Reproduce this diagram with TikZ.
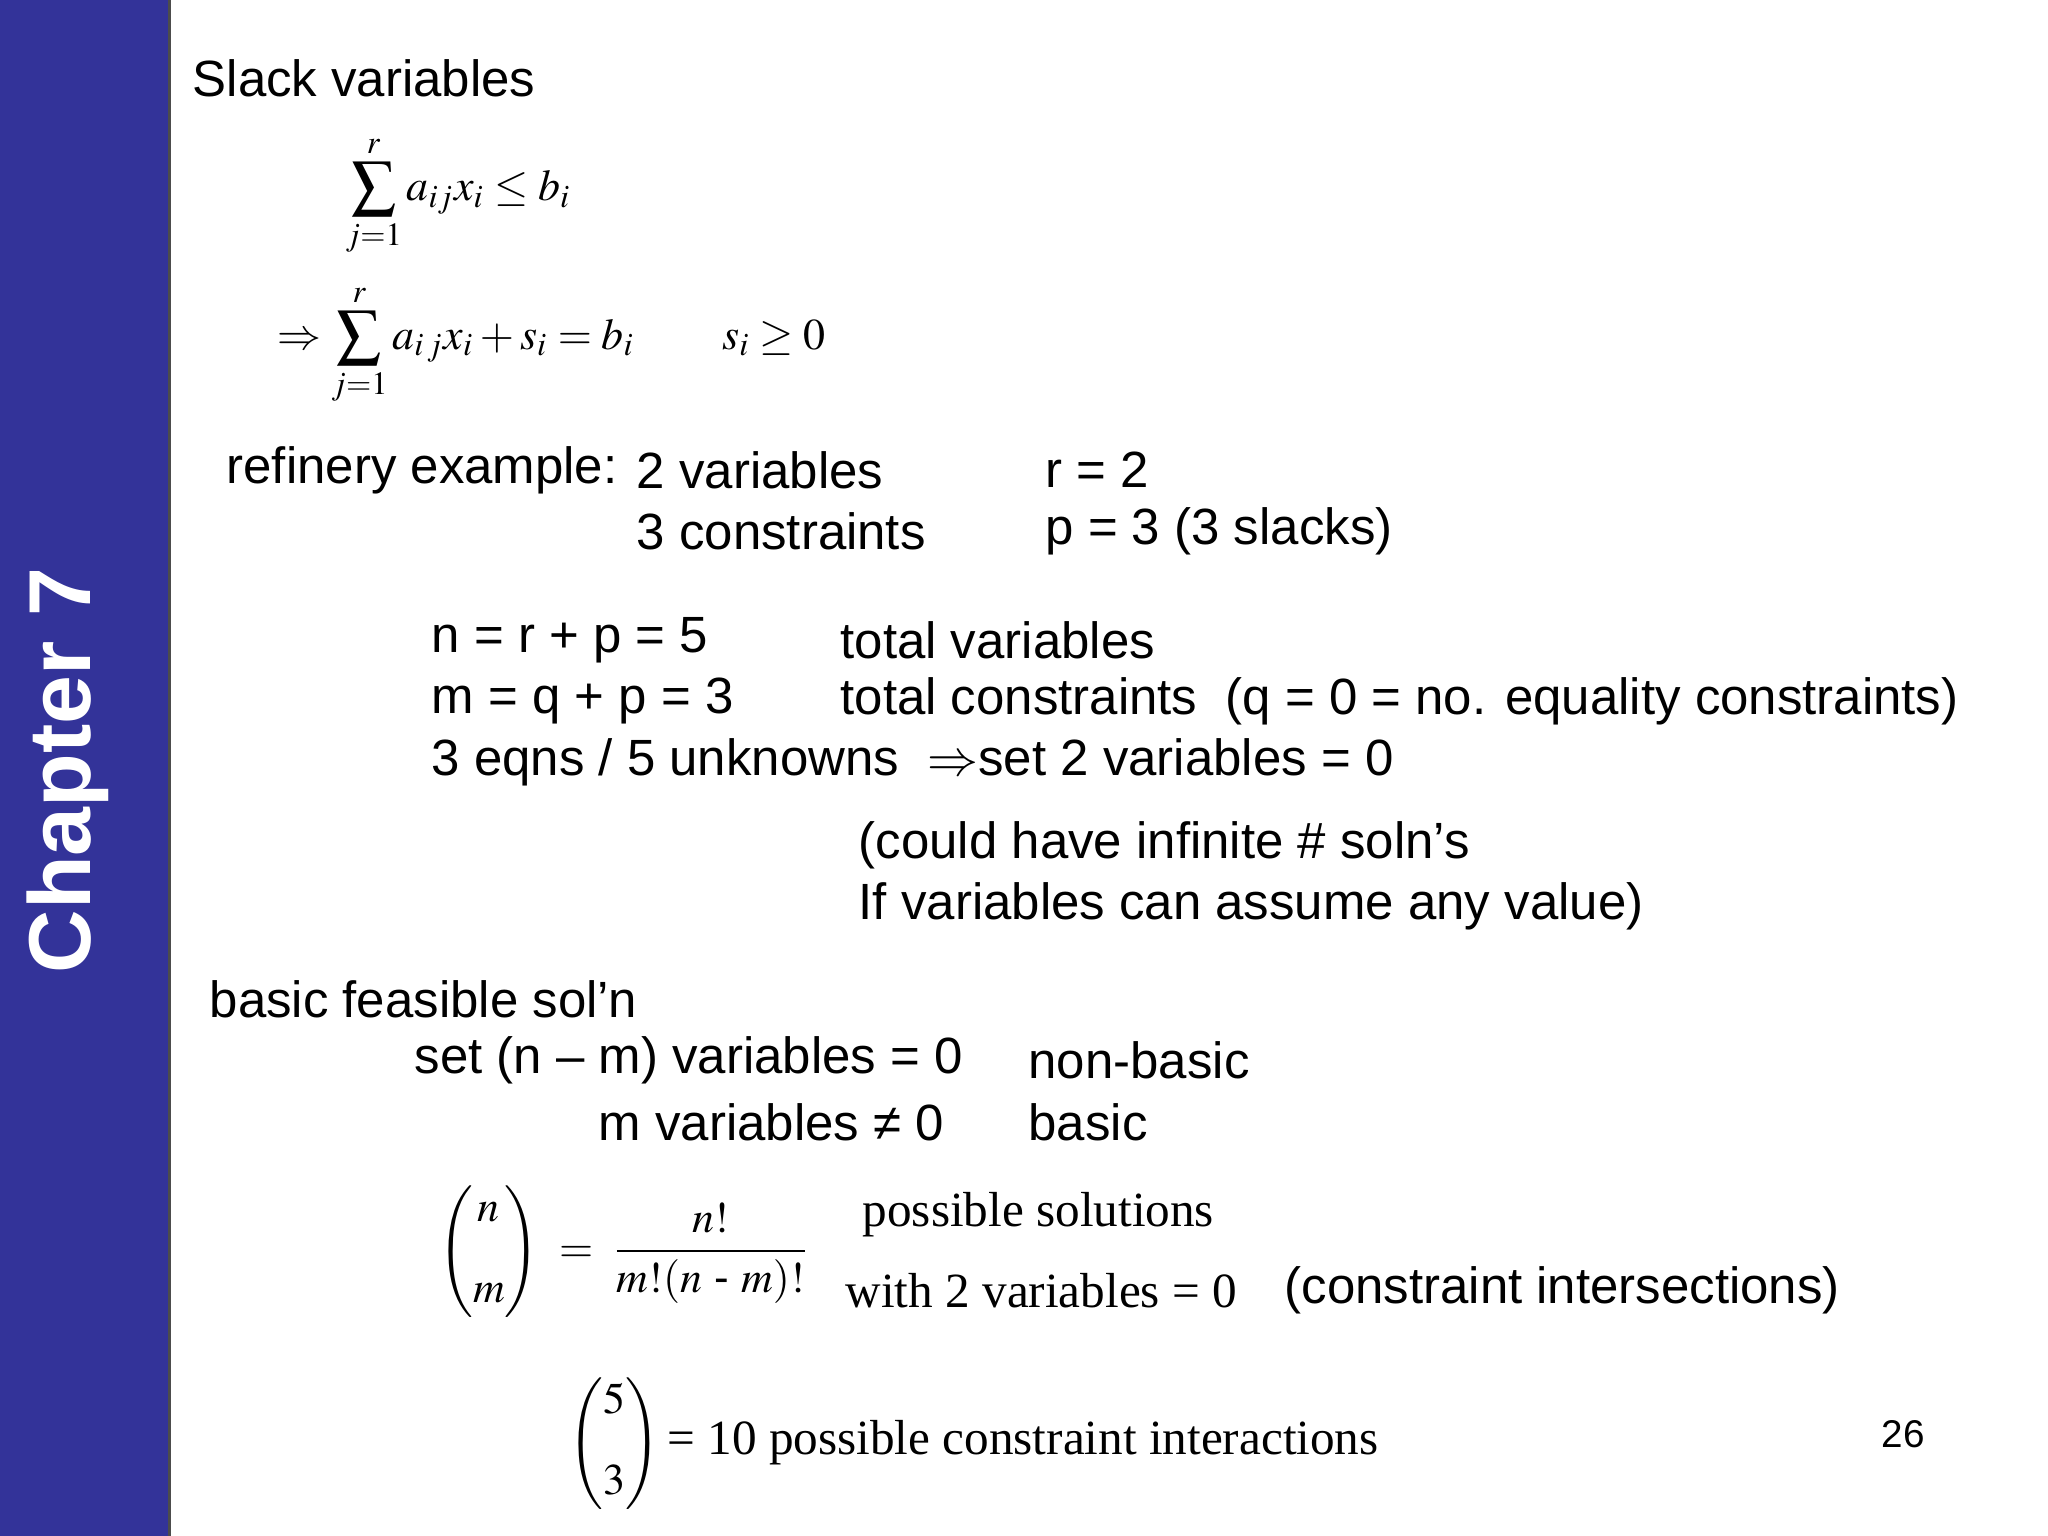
\documentclass[tikz,border=0pt]{standalone}
\usepackage{amsmath}
\usepackage{mathptmx}
\usepackage[no-math]{fontspec}
\setmainfont{Liberation Sans}
\newfontfamily\serifrm{Liberation Serif}
\definecolor{sidebar}{RGB}{51,51,153}
\begin{document}
\begin{tikzpicture}[x=0.01306cm,y=-0.01306cm,
  txt/.style={anchor=west,inner sep=0pt,font=\fontsize{14.5}{17}\selectfont},
  eqn/.style={anchor=west,inner sep=0pt,font=\fontsize{12.5}{15}\selectfont}]
            % \clip (0,0) rectangle (1568,1176);
            \useasboundingbox (0,0) rectangle (1568,1176);
            
            % Side bar
            \fill [sidebar] (0,0) rectangle (130,1176);%
            \draw [line width=0.03cm, black!70] (130,0) -- (130,1176);%
            \node (chap) [rotate=90, text=white, font=\fontsize{25}{30}\selectfont\bfseries] at (52,590) {Chapter 7};%
            
            % Slack variables
            \node (title) [txt] at (147,60) {Slack variables};%
            \node (ineq) [eqn] at (264,150) {$\displaystyle\sum_{j=1}^{r} a_{ij}x_i \le b_i$};%
            \node (slack) [eqn] at (212,264) {$\displaystyle\Rightarrow\sum_{j=1}^{r} a_{i\,j}x_i + s_i = b_i \qquad s_i \ge 0$};%
            
            % Refinery example
            \node (refa) [txt] at (173,360) {refinery example:};%
            \node (refb) [txt] at (487,360) {2 variables};%
            \node (refc) [txt] at (487,407) {3 constraints};%
            \node (refd) [txt] at (800,360) {r = 2};%
            \node (refe) [txt] at (800,407) {p = 3 (3 slacks)};%
            
            % Totals
            \node (tota) [txt] at (330,490) {n = r + p = 5};%
            \node (totb) [txt] at (643,490) {total variables};%
            \node (totc) [txt] at (330,537) {m = q + p = 3};%
            \node (totd) [txt] at (643,537) {total constraints\ \ (q = 0 = no. equality constraints)};%
            \node (tote) [txt] at (330,584) {3 eqns / 5 unknowns\ \ $\Rightarrow$set 2 variables = 0};%
            \node (totf) [txt] at (657,647) {(could have infinite \# soln’s};%
            \node (totg) [txt] at (657,694) {If variables can assume any value)};%
            
            % Basic feasible solution
            \node (bfsa) [txt] at (160,765) {basic feasible sol’n};%
            \node (bfsb) [txt] at (317,812) {set (n – m) variables = 0};%
            \node (bfsc) [txt] at (458,859) {m variables ≠ 0};%
            \node (bfse) [txt] at (787,859) {basic};%
            \node (bfsd) [txt] at (787,812) {non-basic};%
            
            % Combinations
            \node (comba) [eqn] at (335,958) {$\displaystyle\begin{pmatrix} n\\[8pt] m\end{pmatrix} \;=\; \frac{\;n!\;}{m!(n\text{ - }m)!}$};%
            \node (combb) [txt, font=\fontsize{14}{17}\selectfont\serifrm] at (660,930) {possible solutions};%
            \node (combc) [txt, font=\fontsize{14}{17}\selectfont\serifrm] at (647,988) {with 2 variables = 0};%
            \node (combd) [txt] at (983,988) {(constraint intersections)};%
            \node (combe) [eqn] at (435,1105) {$\displaystyle\begin{pmatrix} 5\\[8pt] 3\end{pmatrix}$\,{\serifrm\fontsize{14}{17}\selectfont = 10 possible constraint interactions}};%
            
            % Page number
            \node (page) [txt, font=\fontsize{11}{13}\selectfont] at (1440,1098) {26};%
\end{tikzpicture}
\end{document}
